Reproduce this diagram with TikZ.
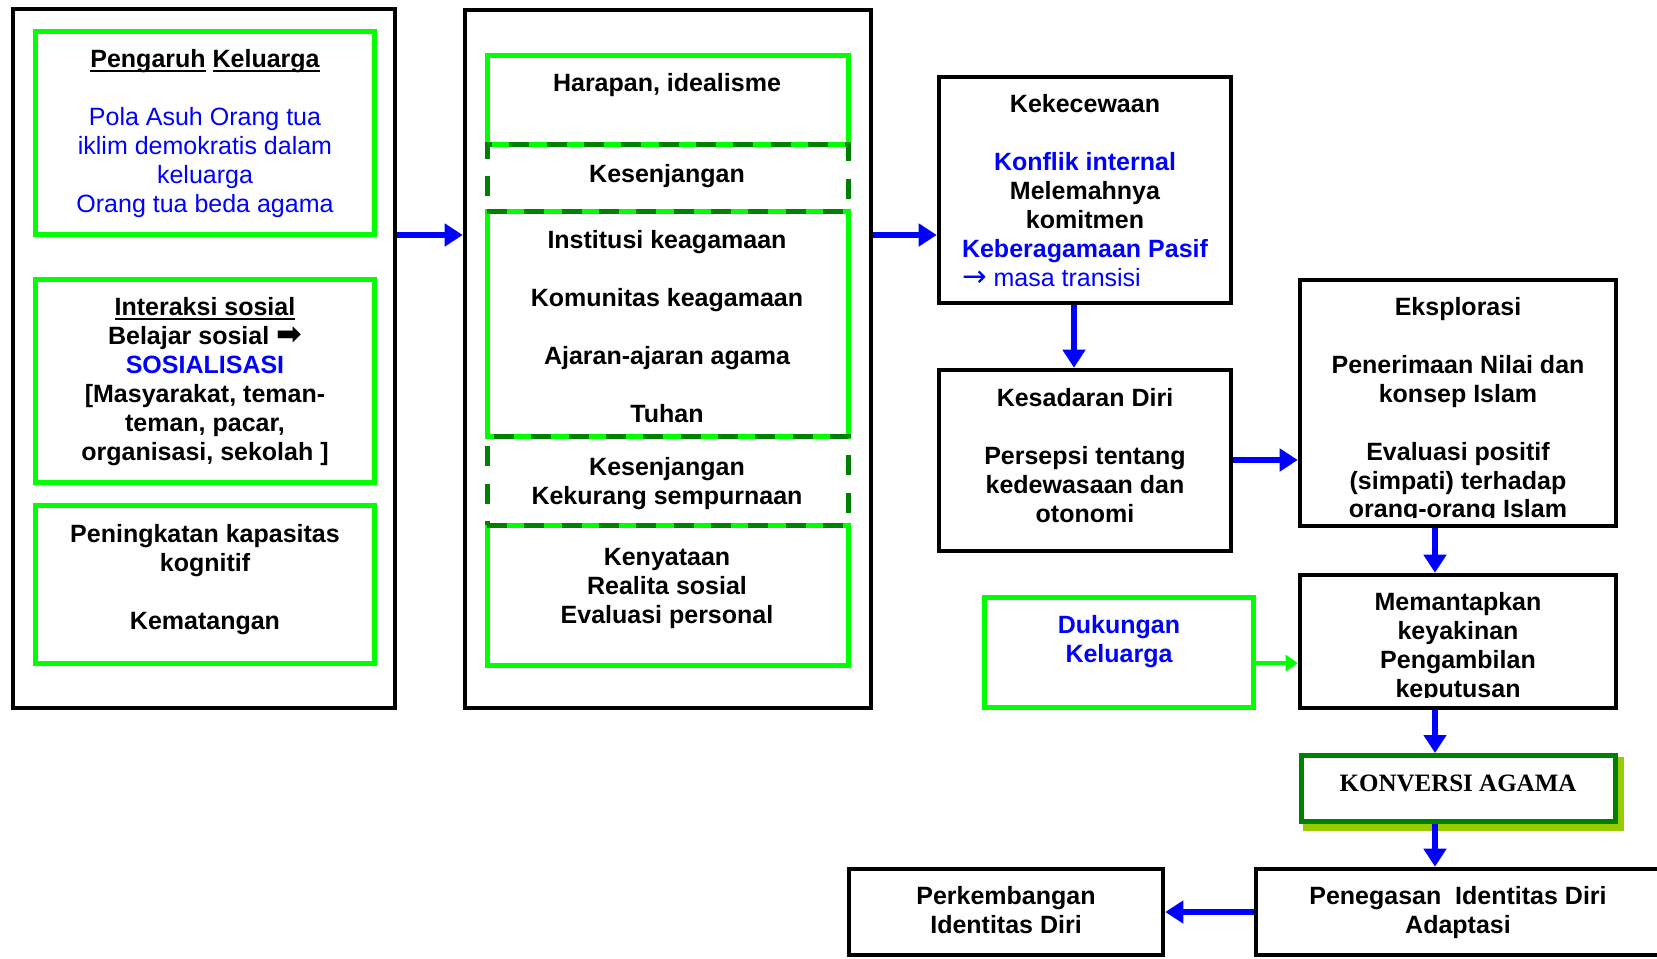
\documentclass[tikz,border=0pt]{standalone}
\usepackage{fontspec}
\setmainfont{Liberation Sans}
\newfontfamily\serifface{Liberation Serif}
\newfontfamily\symface{DejaVu Sans}
\usetikzlibrary{arrows.meta,fit,backgrounds}
\definecolor{brightgreen}{HTML}{00FF00}
\definecolor{darkgreen}{HTML}{008000}
\definecolor{shadowgreen}{HTML}{99CC00}
\definecolor{pureblue}{HTML}{0000FF}
% underline that sits just below the baseline, independent of descenders
\newcommand\uline[1]{\setbox0\hbox{#1}\rlap{\rule[-3.4pt]{\wd0}{1.6pt}}\box0\relax}
\newcommand\bluereg[1]{\textcolor{pureblue}{\mdseries #1}}
\newcommand\bluebold[1]{\textcolor{pureblue}{#1}}
\tikzset{
  blackbox/.style={draw=black, line width=3.4pt, inner sep=0pt, fill=white},
  greenbox/.style={draw=brightgreen, line width=3.75pt, inner sep=0pt},
  gapbox/.style={draw=darkgreen, line width=3.75pt, dash pattern=on 15pt off 13pt, inner sep=0pt},
  convbox/.style={draw=darkgreen, line width=3.75pt, inner sep=0pt, fill=white},
  txt/.style={align=center, inner sep=0pt, yshift=-1.5pt,
    font=\fontsize{18.75}{21.7}\selectfont\bfseries,
    execute at begin node=\strut, execute at end node=\strut},
  flow/.style={draw=pureblue, line width=4.5pt, -{Triangle[width=16.5pt,length=13.5pt]}},
  greenflow/.style={draw=brightgreen, line width=3pt, -{Triangle[width=12pt,length=9pt]}},
}
\begin{document}
\begin{tikzpicture}[x=0.75pt,y=-0.75pt]
\useasboundingbox (0,0) rectangle (1657,958);

% ---------- first column: influences ----------
\node[blackbox, fit={(13,9) (395,708)}] (col1) {};
\node[greenbox, fit={(35.5,31.5) (374.5,234.5)}] (fam) {};
\node[greenbox, fit={(35.5,279.5) (374.5,482.5)}] (soc) {};
\node[greenbox, fit={(35.5,505.5) (374.5,663.5)}] (cog) {};
\node[txt] (famT) at (205,133.5) {\uline{Pengaruh} \uline{Keluarga}\\ ~ \\
  \bluereg{Pola Asuh Orang tua}\\ \bluereg{iklim demokratis dalam}\\
  \bluereg{keluarga}\\ \bluereg{Orang tua beda agama}};
\node[txt] (socT) at (205,381.5) {\uline{Interaksi sosial}\\
  Belajar sosial {\symface\bfseries\fontsize{23}{20}\selectfont ➡}\\ \bluebold{SOSIALISASI}\\
  {[}Masyarakat, teman-\\ teman, pacar,\\ organisasi, sekolah ]};
\node[txt] (cogT) at (205,579.5) {Peningkatan kapasitas\\ kognitif\\ ~ \\ Kematangan};

% ---------- second column: expectation versus reality ----------
\node[blackbox, fit={(465,10) (871,708)}] (col2) {};
\node[greenbox, fit={(487,55) (848,144)}] (hope) {};
\node[greenbox, fit={(487,211) (848,436)}] (inst) {};
\node[greenbox, fit={(487,525) (848,665)}] (real) {};
\node[gapbox, fit={(487,144) (848,211)}] (gapA) {};
\node[gapbox, fit={(487,436) (848,525)}] (gapB) {};
\node[txt] (hopeT) at (667,84) {Harapan, idealisme};
\node[txt] (gapAT) at (667,175) {Kesenjangan};
\node[txt] (instT) at (667,329) {Institusi keagamaan\\ ~ \\ Komunitas keagamaan\\ ~ \\
  Ajaran-ajaran agama\\ ~ \\ Tuhan};
\node[txt] (gapBT) at (667,483) {Kesenjangan\\ Kekurang sempurnaan};
\node[txt] (realT) at (667,588) {Kenyataan\\ Realita sosial\\ Evaluasi personal};

% ---------- process boxes ----------
\node[blackbox, fit={(939,77) (1231,303)}] (kek) {};
\node[txt] (kekT) at (1085,193) {Kekecewaan\\ ~ \\ \bluebold{Konflik internal}\\
  Melemahnya\\ komitmen\\ \bluebold{Keberagamaan Pasif}\\
  \makebox[0pt][l]{\bluereg{{\symface\fontsize{22}{20}\selectfont →} masa transisi}}\phantom{Keberagamaan Pasif}};

\node[blackbox, fit={(939,370) (1231,551)}] (kes) {};
\node[txt] (kesT) at (1085,458) {Kesadaran Diri\\ ~ \\ Persepsi tentang\\
  kedewasaan dan\\ otonomi};

\node[blackbox, fit={(1300,280) (1616,526)}] (eks) {};
\begin{scope}
  \clip (1302,282) rectangle (1614,517);
  \node[txt] (eksT) at (1458,410) {Eksplorasi\\ ~ \\ Penerimaan Nilai dan\\ konsep Islam\\ ~ \\
    Evaluasi positif\\ (simpati) terhadap\\ orang-orang Islam};
\end{scope}

\node[blackbox, fit={(1300,575) (1616,708)}] (mem) {};
\begin{scope}
  \clip (1302,577) rectangle (1614,697);
  \node[txt] (memT) at (1458,647) {Memantapkan\\ keyakinan\\ Pengambilan\\ keputusan};
\end{scope}

\node[greenbox, fit={(984.5,597.5) (1253.5,707.5)}] (duk) {};
\node[txt] (dukT) at (1119,641) {\bluebold{Dukungan}\\ \bluebold{Keluarga}};

\node[convbox, fit={(1301,755.5) (1615,821.5)}] (konv) {};
\begin{scope}[on background layer]
  \fill[shadowgreen] ([shift={(4,4)}]konv.north west) rectangle ([shift={(6,7)}]konv.south east);
\end{scope}
\node[txt, font=\fontsize{18.75}{21.7}\selectfont\serifface\bfseries] (konvT) at (1458,784) {KONVERSI AGAMA};

\node[blackbox, fit={(1256,869) (1664,955)}] (peng) {};
\node[txt] (pengT) at (1458,912) {Penegasan\ \ Identitas Diri\\ Adaptasi};

\node[blackbox, fit={(849,869) (1163,955)}] (perk) {};
\node[txt] (perkT) at (1006,912) {Perkembangan\\ Identitas Diri};

% ---------- connectors ----------
\coordinate (rowA) at (0,235);
\coordinate (rowB) at (0,460);
\coordinate (rowC) at (0,663);
\coordinate (rowD) at (0,912);
\coordinate (colA) at (1074,0);
\coordinate (colB) at (1435,0);
\draw[flow] (col1.east |- rowA) -- (col2.west |- rowA);
\draw[flow] (col2.east |- rowA) -- (kek.west |- rowA);
\draw[flow] (kek.south -| colA) -- (kes.north -| colA);
\draw[flow] (kes.east |- rowB) -- (eks.west |- rowB);
\draw[flow] (eks.south -| colB) -- (mem.north -| colB);
\draw[greenflow] (duk.east |- rowC) -- (mem.west |- rowC);
\draw[flow] (mem.south -| colB) -- (konv.north -| colB);
\draw[flow] (konv.south -| colB) -- (peng.north -| colB);
\draw[flow] (peng.west |- rowD) -- (perk.east |- rowD);
\end{tikzpicture}
\end{document}
